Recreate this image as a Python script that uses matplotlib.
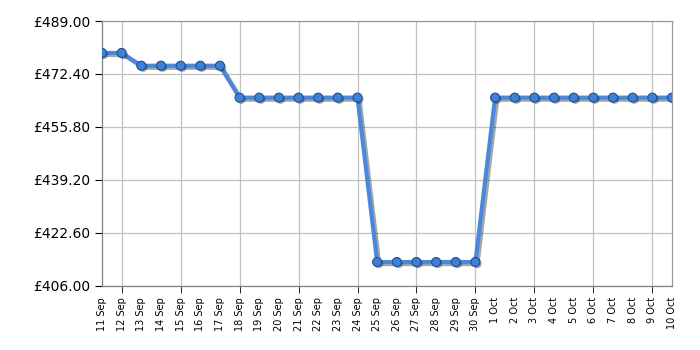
import matplotlib
matplotlib.use("Agg")
import matplotlib.pyplot as plt
import matplotlib.patheffects as pe

# dates shown along the bottom
dates = ["11 Sep", "12 Sep", "13 Sep", "14 Sep", "15 Sep", "16 Sep", "17 Sep",
         "18 Sep", "19 Sep", "20 Sep", "21 Sep", "22 Sep", "23 Sep", "24 Sep",
         "25 Sep", "26 Sep", "27 Sep", "28 Sep", "29 Sep", "30 Sep",
         "1 Oct", "2 Oct", "3 Oct", "4 Oct", "5 Oct", "6 Oct", "7 Oct",
         "8 Oct", "9 Oct", "10 Oct"]

prices = [478.99, 478.99, 474.99, 474.99, 474.99, 474.99, 474.99,
          464.99, 464.99, 464.99, 464.99, 464.99, 464.99, 464.99,
          413.49, 413.49, 413.49, 413.49, 413.49, 413.49,
          464.99, 464.99, 464.99, 464.99, 464.99, 464.99, 464.99,
          464.99, 464.99, 464.99]

y_ticks = [406.00, 422.60, 439.20, 455.80, 472.40, 489.00]

fig = plt.figure(figsize=(7, 3.5), dpi=100)
ax = fig.add_axes([0.1457, 0.183, 0.8143, 0.757])

x = list(range(len(dates)))

shadow = [pe.SimpleLineShadow(offset=(1.5, -1.5), shadow_color="black", alpha=0.35),
          pe.Normal()]
ax.plot(x, prices, color="#4a88dc", lw=3, zorder=3, path_effects=shadow)
ax.plot(x, prices, ls="none", marker="o", ms=6.5, mfc="#3f7fd6", mec="#1f4f8f",
        mew=0.8, zorder=4,
        path_effects=[pe.SimplePatchShadow(offset=(1.2, -1.2), alpha=0.4), pe.Normal()])

ax.set_xlim(0, len(dates) - 1)
ax.set_ylim(y_ticks[0], y_ticks[-1])

# labels every day, gridlines and tick marks every third day
ax.xaxis.remove_overlapping_locs = False
ax.set_xticks(x)
ax.set_xticklabels(dates, rotation=90, fontsize=7)
ax.tick_params(axis="x", which="major", length=0, pad=8)
ax.set_xticks(list(range(1, len(dates), 3)), minor=True)
ax.tick_params(axis="x", which="minor", length=5, color="black")

ax.set_yticks(y_ticks)
ax.set_yticklabels([f"£{v:.2f}" for v in y_ticks], fontsize=10)
ax.tick_params(axis="y", length=5, color="black")

ax.grid(True, axis="x", which="minor", color="#c0c0c0", lw=0.9)
ax.grid(True, axis="y", which="major", color="#c0c0c0", lw=0.9)
ax.set_axisbelow(True)
for s in ax.spines.values():
    s.set_color("#999999")
    s.set_linewidth(0.9)
ax.spines["left"].set_color("#808080")
ax.spines["bottom"].set_color("#808080")

fig.savefig("out.png", dpi=100)
